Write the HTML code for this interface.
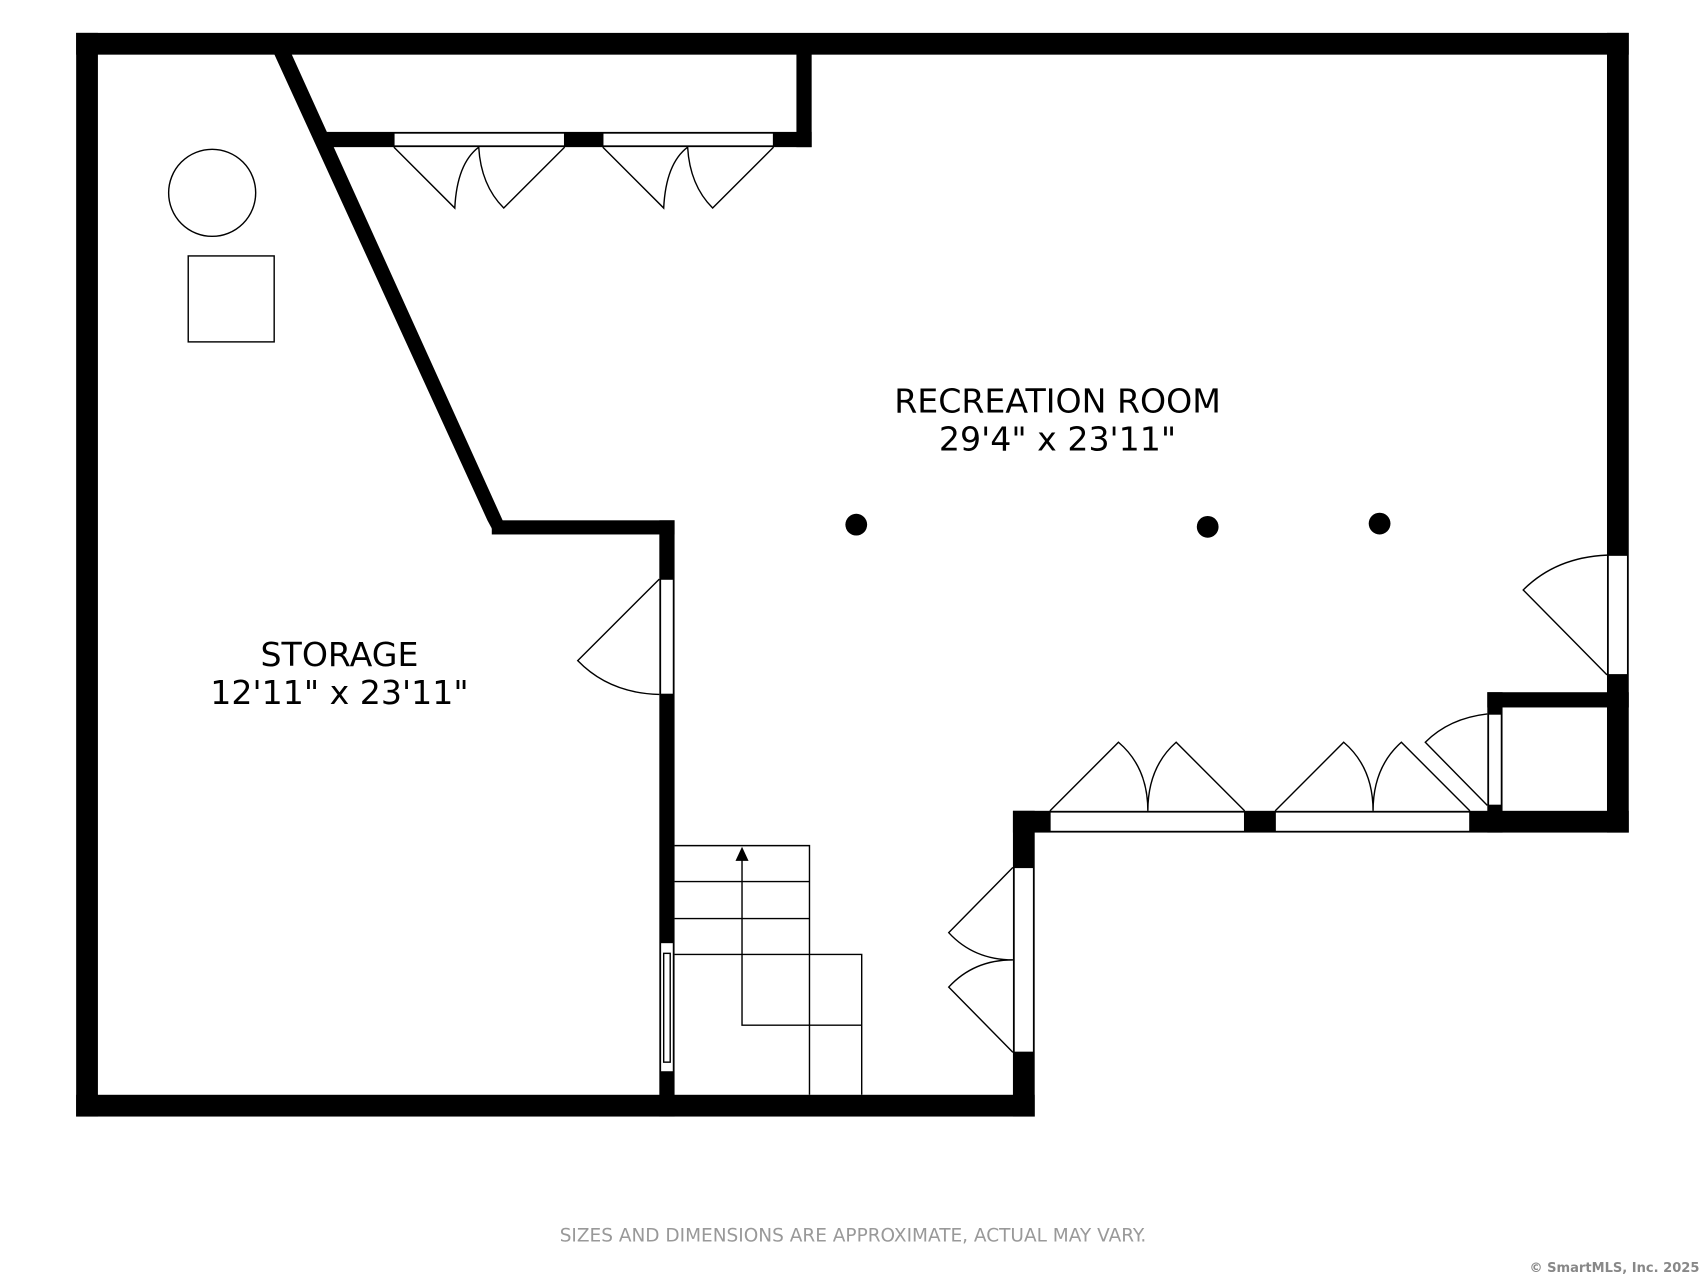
<!DOCTYPE html>
<html><head><style>html,body{margin:0;padding:0;background:#fff}svg{display:block}</style></head><body>
<svg width="1706" height="1280" viewBox="0 0 1568 1176" xmlns="http://www.w3.org/2000/svg">
<rect width="1568" height="1176" fill="#fff"/>
<g fill="#000">
<rect x="70" y="30" width="1427" height="20"/>
<rect x="70" y="30" width="20" height="996"/>
<rect x="70" y="1006" width="881" height="20"/>
<rect x="1477" y="30" width="20" height="735"/>
<polygon points="250,45 266,45 462,478 455,491 448,478"/>
<rect x="452" y="478" width="168" height="13"/>
<rect x="606" y="478" width="14" height="548"/>
<rect x="292" y="121" width="454" height="14"/>
<rect x="732" y="40" width="14" height="95"/>
<rect x="931" y="745" width="20" height="281"/>
<rect x="931" y="745" width="566" height="20"/>
<rect x="1367" y="636" width="130" height="14"/>
<rect x="1367" y="636" width="14" height="129"/>
</g>
<g fill="#fff" stroke="#000" stroke-width="1.3">
<rect x="362" y="122" width="157" height="12"/>
<rect x="554" y="122" width="157" height="12"/>
<rect x="607" y="532" width="12" height="106"/>
<rect x="607" y="866" width="12" height="119"/>
<rect x="610" y="876" width="6" height="100"/>
<rect x="1478" y="510" width="18" height="110"/>
<rect x="932" y="797" width="18" height="170"/>
<rect x="965" y="746" width="179" height="18"/>
<rect x="1172" y="746" width="179" height="18"/>
<rect x="1368" y="656" width="12" height="84"/>
</g>
<g fill="none" stroke="#000" stroke-width="1.3">
<path d="M362,135 L418,191 Q420,150 440,135 Q442,170 463,191 L519,135"/>
<path d="M554,135 L610,191 Q612,150 632,135 Q634,170 655,191 L711,135"/>
<path d="M606,532 L531,607 Q560,637 606,638"/>
<path d="M1477,510 Q1430,512 1400,542 L1477,620"/>
<path d="M931,797 L872,857 Q895,882 931,882 Q895,882 872,907 L931,967"/>
<path d="M965,745 L1028,682 Q1055,705 1055,745 Q1055,705 1081,682 L1144,745"/>
<path d="M1172,745 L1235,682 Q1262,705 1262,745 Q1262,705 1288,682 L1351,745"/>
<path d="M1367,656 Q1332,660 1310,682 L1367,740"/>
<path d="M620,777 H744 V1006 M620,810 H744 M620,844 H744 M620,877 H792 V1006"/>
<path d="M682,790 V942 H792"/>
<circle cx="195" cy="177" r="40"/>
<rect x="173" y="235" width="79" height="79"/>
</g>
<polygon points="682,778 676,791 688,791" fill="#000"/>
<circle cx="787" cy="482" r="10"/>
<circle cx="1110" cy="484" r="10"/>
<circle cx="1268" cy="481" r="10"/>
<g font-family="'DejaVu Sans','Liberation Sans',sans-serif" fill="#000" text-anchor="middle" font-size="30.5">
<text x="972" y="379">RECREATION ROOM</text>
<text x="972" y="414">29'4" x 23'11"</text>
<text x="312" y="612">STORAGE</text>
<text x="312" y="647">12'11" x 23'11"</text>
</g>
<text x="784" y="1141" font-family="'DejaVu Sans','Liberation Sans',sans-serif" font-size="17" fill="#999" text-anchor="middle">SIZES AND DIMENSIONS ARE APPROXIMATE, ACTUAL MAY VARY.</text>
<text x="1562" y="1169" font-family="'DejaVu Sans','Liberation Sans',sans-serif" font-size="12" fill="#888" text-anchor="end" font-weight="bold">© SmartMLS, Inc.  2025</text>
</svg>
</body></html>
